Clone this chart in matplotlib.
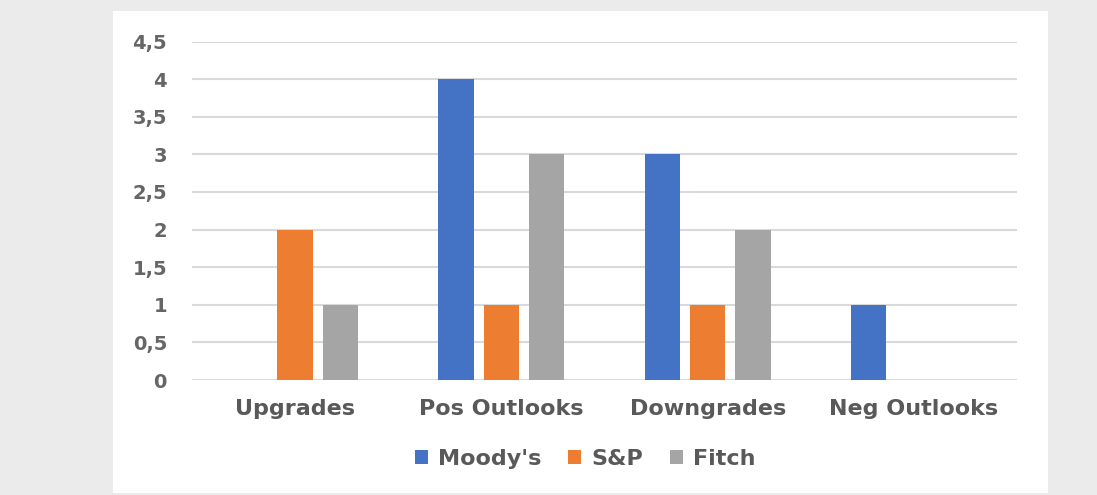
import matplotlib.pyplot as plt
import numpy as np
from matplotlib.patches import Rectangle
from matplotlib.ticker import FuncFormatter

# rating actions per agency
categories = ["Upgrades", "Pos Outlooks", "Downgrades", "Neg Outlooks"]
moodys = [0, 4, 3, 1]
sp = [2, 1, 1, 0]
fitch = [1, 3, 2, 0]
series_names = ["Moody's", "S&P", "Fitch"]
colors = ["#4472C4", "#ED7D31", "#A5A5A5"]
y_ticks = [0, 0.5, 1, 1.5, 2, 2.5, 3, 3.5, 4, 4.5]

plt.rcParams['font.family'] = ['DejaVu Sans']

W, H = 1097, 495
fig = plt.figure(figsize=(W / 100, H / 100), dpi=100)
fig.patch.set_facecolor("#ebebeb")

# white card behind the chart
fig.patches.append(Rectangle((113 / W, 2 / H), (1048 - 113) / W, (493 - 11) / H,
                             transform=fig.transFigure, facecolor="white",
                             edgecolor="none", zorder=-1))

ax = fig.add_axes([192 / W, 1 - 380 / H, (1017 - 192) / W, (380 - 41.5) / H])
ax.set_facecolor("none")

x = np.arange(len(categories))
bw = 0.172
step = 0.22
for i, (vals, name, c) in enumerate(zip([moodys, sp, fitch], series_names, colors)):
    ax.bar(x + (i - 1) * step, vals, width=bw, color=c, label=name, zorder=3)

ax.set_xlim(-0.5, len(categories) - 0.5)
ax.set_ylim(0, 4.5)
ax.set_yticks(y_ticks)
ax.yaxis.set_major_formatter(FuncFormatter(lambda v, p: f"{v:g}".replace(".", ",")))
ax.grid(axis="y", color="#d9d9d9", linewidth=1.5, zorder=0)
ax.set_axisbelow(True)
for s in ax.spines.values():
    s.set_visible(False)

ax.set_xticks(x)
ax.set_xticklabels(categories, fontsize=16, fontweight="bold", color="#595959")
ax.tick_params(axis="x", length=0, pad=14)
ax.tick_params(axis="y", length=0, pad=18, labelsize=14, labelcolor="#666666")
for t in ax.get_yticklabels():
    t.set_fontweight("bold")

fig.legend(loc="center", bbox_to_anchor=(585 / W, 1 - 459 / H), ncol=3,
           frameon=False, prop={"size": 16, "weight": "bold"},
           labelcolor="#595959", handlelength=0.6, handleheight=0.6,
           handletextpad=0.45, columnspacing=1.2)

fig.savefig("out.png", dpi=100, facecolor=fig.get_facecolor())
